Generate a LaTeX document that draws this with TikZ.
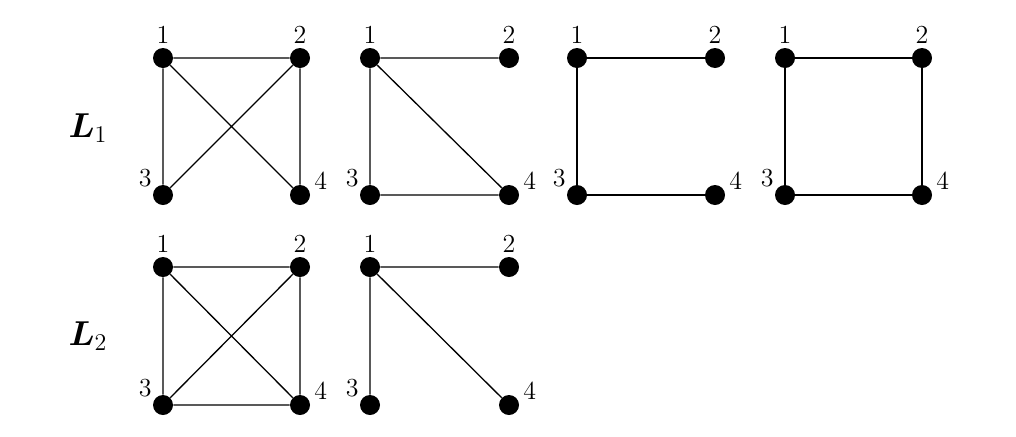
\documentclass[tikz,border=0pt]{standalone}
\usepackage{amsmath}
\usepackage{tikz}
\tikzset{%
    vertex/.style={circle, fill=black, inner sep=0pt, minimum size=10pt},
    edge/.style={line width=0.65pt},
    lbl/.style={font=\fontsize{13}{15}\selectfont},
    lone/.style={label={[lbl, yshift=-1.5pt]above:1}},
    ltwo/.style={label={[lbl, yshift=-1.5pt]above:2}},
    lthree/.style={label={[lbl, xshift=1.5pt, yshift=-3pt]above left:3}},
    lfour/.style={label={[lbl, yshift=-4.5pt]above right:4}}
}
\begin{document}
\begin{tikzpicture}[x=0.5pt,y=0.5pt]
        \useasboundingbox (0,0) rectangle (1016,436);
        \node (L1) at (88,308) {\LARGE$\boldsymbol{L}_1$};
        \node (L2) at (88,100) {\LARGE$\boldsymbol{L}_2$};

        % row L1
        \node[vertex, lone] (a1) at (163,378) {};
        \node[vertex, ltwo] (a2) at (300,378) {};
        \node[vertex, lthree] (a3) at (163,241) {};
        \node[vertex, lfour] (a4) at (300,241) {};
        \draw[edge] (a1) -- (a2) (a1) -- (a3) (a1) -- (a4) (a2) -- (a3) (a2) -- (a4);

        \node[vertex, lone] (b1) at (370,378) {};
        \node[vertex, ltwo] (b2) at (509,378) {};
        \node[vertex, lthree] (b3) at (370,241) {};
        \node[vertex, lfour] (b4) at (509,241) {};
        \draw[edge] (b1) -- (b2) (b1) -- (b3) (b1) -- (b4) (b3) -- (b4);

        \node[vertex, lone] (c1) at (577,378) {};
        \node[vertex, ltwo] (c2) at (715,378) {};
        \node[vertex, lthree] (c3) at (577,241) {};
        \node[vertex, lfour] (c4) at (715,241) {};
        \draw[edge] (c1) -- (c2) (c1) -- (c3) (c3) -- (c4);

        \node[vertex, lone] (d1) at (785,378) {};
        \node[vertex, ltwo] (d2) at (922,378) {};
        \node[vertex, lthree] (d3) at (785,241) {};
        \node[vertex, lfour] (d4) at (922,241) {};
        \draw[edge] (d1) -- (d2) (d1) -- (d3) (d2) -- (d4) (d3) -- (d4);

        % row L2
        \node[vertex, lone] (e1) at (163,169) {};
        \node[vertex, ltwo] (e2) at (300,169) {};
        \node[vertex, lthree] (e3) at (163,31) {};
        \node[vertex, lfour] (e4) at (300,31) {};
        \draw[edge] (e1) -- (e2) (e1) -- (e3) (e1) -- (e4) (e2) -- (e3) (e2) -- (e4) (e3) -- (e4);

        \node[vertex, lone] (f1) at (370,169) {};
        \node[vertex, ltwo] (f2) at (509,169) {};
        \node[vertex, lthree] (f3) at (370,31) {};
        \node[vertex, lfour] (f4) at (509,31) {};
        \draw[edge] (f1) -- (f2) (f1) -- (f3) (f1) -- (f4);
\end{tikzpicture}
\end{document}
